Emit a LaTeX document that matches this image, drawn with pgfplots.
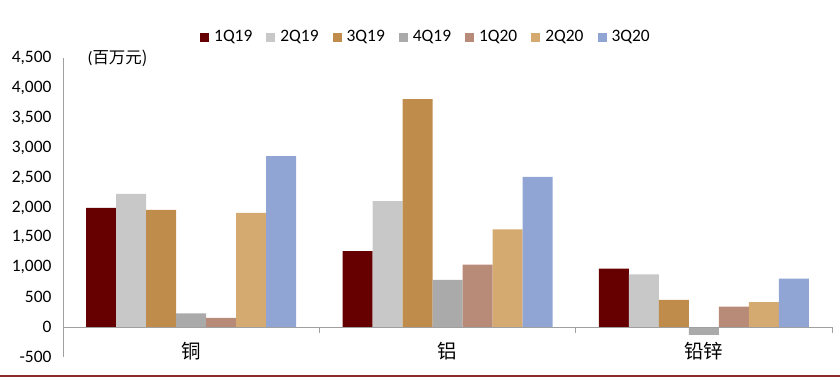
\documentclass[border=0pt]{standalone}
\usepackage{fontspec}
\setmainfont{Carlito}
\newfontfamily\cjk{Noto Sans CJK SC}
\usepackage{pgfplots}
\usepackage{pgfplotstable}
\pgfplotsset{compat=1.18}
\definecolor{cA}{HTML}{660000}
\definecolor{cB}{HTML}{C8C8C8}
\definecolor{cC}{HTML}{BF8C4C}
\definecolor{cD}{HTML}{AAAAAA}
\definecolor{cE}{HTML}{B88A78}
\definecolor{cF}{HTML}{D4AA70}
\definecolor{cG}{HTML}{91A5D5}
\definecolor{axgray}{HTML}{A0A0A0}
\definecolor{redline}{HTML}{8C2A2A}
\pgfplotstableread{
x  a    b    c    d    e    f    g
0  1995 2228 1961 228  156  1911 2861
1  1272 2105 3811 788  1044 1633 2511
2  978  883  455  -128 344  417  811
}\data
\begin{document}
\begin{tikzpicture}
\useasboundingbox (0,0) rectangle (840bp,380bp);
\begin{axis}[
  at={(63bp,23bp)}, anchor=south west,
  scale only axis, width=769bp, height=299bp,
  xmin=-0.5, xmax=2.5, ymin=-500, ymax=4500,
  ytick={-500,0,500,1000,1500,2000,2500,3000,3500,4000,4500},
  yticklabels={-500,0,500,{1,000},{1,500},{2,000},{2,500},{3,000},{3,500},{4,000},{4,500}},
  xtick={0,1,2},
  xticklabels={{\cjk 铜},{\cjk 铝},{\cjk 铅锌}},
  xticklabel style={font=\fontsize{19.5}{21}\selectfont, anchor=center, yshift=10bp},
  yticklabel style={font=\fontsize{17.5}{19}\selectfont, xshift=-8bp},
  separate axis lines,
  axis x line*=bottom, axis y line*=left,
  x axis line style={draw=none},
  y axis line style={draw=axgray, line width=0.8bp},
  xtick style={draw=none}, ytick style={draw=none},
  ybar=0pt, bar width=30bp,
  clip=false,
  legend columns=7,
  legend style={draw=none, at={(0.472,1.070)}, anchor=center,
    font=\fontsize{17.5}{19}\selectfont,
    /tikz/every even column/.append style={column sep=12bp},
    inner sep=0pt},
  legend image code/.code={\path[#1,draw=none] (0bp,-4.5bp) rectangle (9bp,4.5bp); \path (12bp,0bp);},
]
\addplot[fill=cA, draw=none] table[x=x,y=a]{\data};
\addplot[fill=cB, draw=none] table[x=x,y=b]{\data};
\addplot[fill=cC, draw=none] table[x=x,y=c]{\data};
\addplot[fill=cD, draw=none] table[x=x,y=d]{\data};
\addplot[fill=cE, draw=none] table[x=x,y=e]{\data};
\addplot[fill=cF, draw=none] table[x=x,y=f]{\data};
\addplot[fill=cG, draw=none] table[x=x,y=g]{\data};
\legend{1Q19,2Q19,3Q19,4Q19,1Q20,2Q20,3Q20}
\draw[axgray, line width=0.8bp] (axis cs:-0.5,0) -- (axis cs:2.5,0);
\draw[axgray, line width=0.8bp] (axis cs:0.5,0) -- ([yshift=-6bp]axis cs:0.5,0);
\draw[axgray, line width=0.8bp] (axis cs:1.5,0) -- ([yshift=-6bp]axis cs:1.5,0);
\draw[axgray, line width=0.8bp] (axis cs:2.5,0) -- ([yshift=-6bp]axis cs:2.5,0);
\end{axis}
\node[anchor=west, font=\fontsize{16.5}{18}\selectfont] at (84bp,322bp) {(\cjk 百万元)};
\draw[redline, line width=1.6bp] (0,4bp) -- (840bp,4bp);
\end{tikzpicture}
\end{document}
